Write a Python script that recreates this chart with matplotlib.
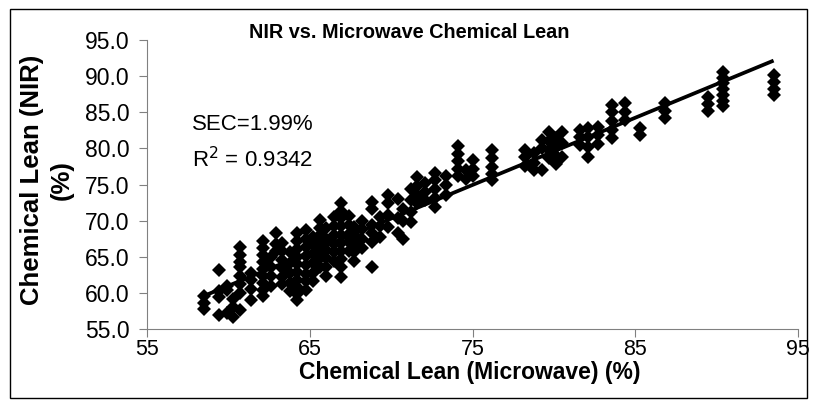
import numpy as np
import matplotlib.pyplot as plt
from matplotlib.patches import Rectangle

plt.rcParams['font.family'] = ['Liberation Sans', 'DejaVu Sans']

# microwave (x) and NIR (y) chemical lean
microwave = [58.5]*3 + [59.4]*4 + [59.9]*3 + [60.3]*3 + [60.7]*8 + [61.4]*4 \
    + [62.1]*9 + [62.6]*4 + [62.9]*3 + [63.3]*6 + [63.8]*5 + [64.2]*10 \
    + [64.8]*8 + [65.2]*6 + [65.6]*7 + [66.0]*6 + [66.5]*6 + [66.9]*10 \
    + [67.4]*5 + [67.7]*5 + [68.2]*4 + [68.8]*6 + [69.3]*3 + [69.8]*4 \
    + [70.4]*3 + [70.7]*3 + [71.2]*4 + [71.6]*4 + [72.1]*3 + [72.7]*5 \
    + [73.4]*3 + [74.1]*5 + [74.6]*2 + [75.0]*3 + [76.2]*5 + [78.2]*3 \
    + [78.8]*3 + [79.3]*3 + [79.7]*4 + [80.1]*4 + [80.5]*3 + [81.6]*3 \
    + [82.1]*4 + [82.7]*3 + [83.6]*5 + [84.4]*3 + [85.3]*2 + [86.8]*3 \
    + [89.5]*3 + [90.4]*7 + [93.5]*4

nir = [59.5, 58.6, 57.8,
       63.2, 60.2, 59.4, 57.0,
       61.0, 60.4, 57.2,
       59.2, 58.0, 56.7,
       66.3, 65.2, 64.3, 63.6, 62.4, 61.2, 60.0, 57.6,
       62.8, 61.8, 60.5, 59.0,
       67.2, 66.2, 65.3, 64.3, 63.3, 62.3, 61.4, 60.4, 59.5,
       65.0, 63.6, 62.3, 61.0,
       68.3, 66.8, 65.8,
       66.9, 65.8, 64.6, 63.4, 62.2, 61.2,
       65.6, 64.2, 62.8, 61.4, 60.3,
       68.3, 67.2, 66.1, 65.0, 64.0, 62.9, 61.8, 60.8, 59.8, 59.0,
       68.7, 67.5, 66.3, 65.1, 63.8, 62.6, 61.6, 60.4,
       67.8, 66.6, 65.4, 64.2, 62.8, 61.6,
       70.1, 69.0, 68.0, 66.9, 65.8, 64.8, 63.6,
       69.0, 67.5, 66.0, 64.8, 63.6, 62.4,
       70.5, 69.2, 68.0, 66.8, 65.6, 64.4,
       72.4, 71.4, 70.4, 69.2, 68.0, 66.9, 65.8, 64.7, 63.6, 62.2,
       70.6, 69.4, 68.2, 67.0, 65.8,
       69.1, 68.0, 66.9, 65.6, 64.4,
       70.0, 68.8, 67.5, 66.2,
       72.6, 71.6, 69.4, 68.3, 67.0, 63.6,
       70.5, 69.2, 67.8,
       73.6, 72.4, 70.8, 69.1,
       73.0, 70.4, 68.3,
       71.6, 70.0, 67.5,
       74.4, 72.8, 71.2, 69.8,
       76.0, 74.8, 73.6, 72.4,
       75.2, 74.0, 72.8,
       76.6, 75.6, 74.4, 73.2, 71.9,
       76.2, 75.0, 73.6,
       80.3, 79.2, 78.2, 77.2, 76.2,
       77.0, 75.8,
       78.4, 77.2, 76.2,
       79.8, 78.6, 77.4, 76.4, 75.6,
       79.8, 78.8, 77.6,
       79.4, 78.0, 77.0,
       81.2, 80.0, 77.0,
       82.2, 81.0, 79.8, 78.6,
       81.4, 80.2, 79.0, 77.8,
       82.2, 80.8, 78.8,
       82.6, 81.6, 80.4,
       82.8, 81.6, 80.2, 78.8,
       83.0, 81.8, 80.6,
       86.0, 85.0, 83.8, 82.6, 81.4,
       86.3, 85.0, 83.9,
       82.8, 81.8,
       86.3, 85.2, 84.2,
       87.1, 86.2, 85.2,
       90.6, 89.8, 89.0, 88.2, 87.4, 86.6, 85.8,
       90.2, 89.2, 88.2, 87.4]

x_ticks = [55, 65, 75, 85, 95]
y_ticks = [55, 60, 65, 70, 75, 80, 85, 90, 95]

x = np.array(microwave)
y = np.array(nir)
slope, intercept = np.polyfit(x, y, 1)

fig = plt.figure(figsize=(8.16, 4.08), dpi=100)
ax = fig.add_axes([147/816, 1 - 329/408, (798-147)/816, (329-40)/408])

ax.plot(x, y, 'D', color='black', markersize=7.5, markeredgewidth=0)
xl = np.array([x.min(), x.max()])
ax.plot(xl, slope*xl + intercept, color='black', lw=2.7, solid_capstyle='butt')

ax.set_xlim(55, 95)
ax.set_ylim(55, 95)
ax.set_xticks(x_ticks)
ax.set_yticks(y_ticks)
ax.set_yticklabels(['%.1f' % v for v in y_ticks])
for s in ['top', 'right']:
    ax.spines[s].set_visible(False)
for s in ['left', 'bottom']:
    ax.spines[s].set_color('#808080')
ax.tick_params(direction='out', length=5.5, color='#808080')
ax.tick_params(axis='x', pad=2, labelsize=15.5)
ax.tick_params(axis='y', pad=7, labelsize=16.5)

ax.text(0.069, 0.689, 'SEC=1.99%', transform=ax.transAxes, fontsize=16)
ax.text(0.069, 0.56, 'R$^2$ = 0.9342', transform=ax.transAxes, fontsize=16)

fig.text(409/816, 1 - 33/408, 'NIR vs. Microwave Chemical Lean', ha='center', va='center',
         fontsize=14.3, fontweight='bold')
fig.text(470/816, 1 - 373/408, 'Chemical Lean (Microwave) (%)', ha='center', va='center',
         fontsize=16.5, fontweight='bold')
fig.text(47/816, 1 - 180/408, 'Chemical Lean (NIR)\n(%)', ha='center', va='center',
         rotation=90, fontsize=18.5, fontweight='bold', linespacing=1.3)

fig.patches.append(Rectangle((10/816, 1 - 398/408), 797/816, 389/408, transform=fig.transFigure,
                             fill=False, edgecolor='black', lw=1))

fig.savefig('out.png', dpi=100)
